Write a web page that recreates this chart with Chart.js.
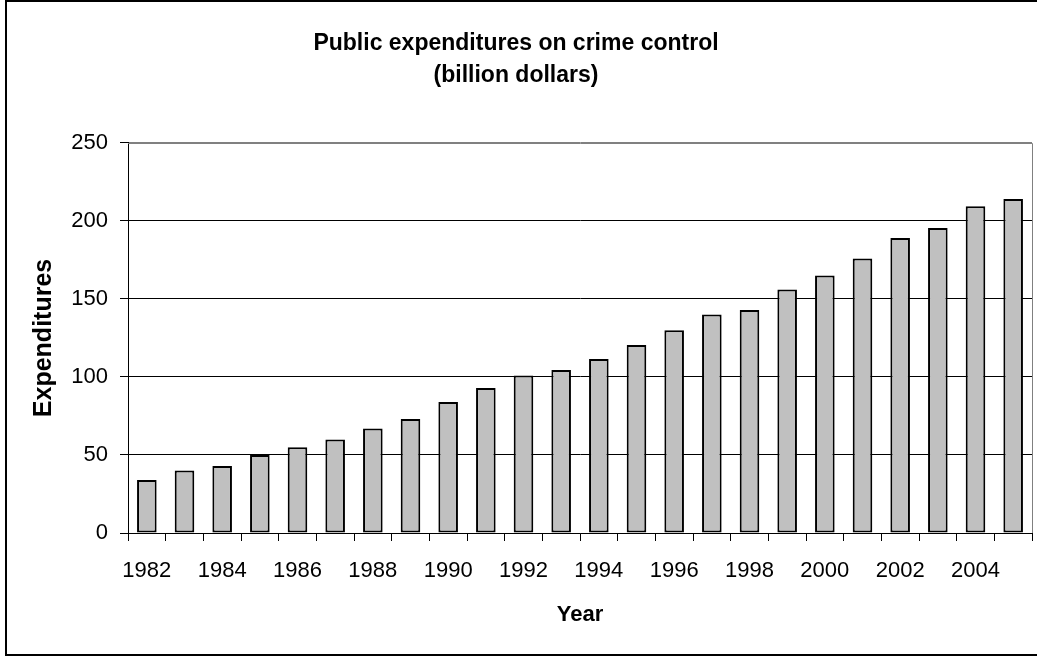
<!DOCTYPE html>
<html>
<head>
<meta charset="utf-8">
<title>Public expenditures on crime control</title>
<script src="https://cdn.jsdelivr.net/npm/chart.js@4/dist/chart.umd.min.js"></script>
<style>
    html, body { margin: 0; padding: 0; background: #fff; }
    #frame {
        position: absolute;
        left: 5px; top: 0;
        width: 1040px; height: 652px;
        border: 2px solid #000;
        background: #fff;
    }
    #chart-box {
        position: absolute;
        left: 0; top: 0;
        width: 1037px; height: 657px;
    }
</style>
</head>
<body>
<div id="frame"></div>
<div id="chart-box">
    <canvas id="crimeChart" width="1037" height="657"></canvas>
</div>
<script>
// Du lieu
const years = ['1982', '1983', '1984', '1985', '1986', '1987', '1988', '1989', '1990', '1991', '1992', '1993',
    '1994', '1995', '1996', '1997', '1998', '1999', '2000', '2001', '2002', '2003', '2004', '2005']
const expenditures = [34, 40, 43, 50, 55, 60, 67, 73, 84, 93, 101, 104.5,
    111.5, 120.5, 130, 140, 143, 156, 165, 176, 189, 195.5, 209.5, 214]
const yTicks = [0, 50, 100, 150, 200, 250]

const fontFamily = "'Liberation Sans', Arial, sans-serif"

// Vien xam phia tren va ben phai vung ve
const plotFrame = {
    id: 'plotFrame',
    afterDatasetsDraw(chart) {
        const { ctx, chartArea: a } = chart
        ctx.save()
        ctx.strokeStyle = '#808080'
        ctx.lineWidth = 1
        ctx.beginPath()
        ctx.moveTo(a.left, Math.round(a.top) + 0.5)
        ctx.lineTo(Math.round(a.right) + 0.5, Math.round(a.top) + 0.5)
        ctx.lineTo(Math.round(a.right) + 0.5, a.bottom)
        ctx.stroke()
        ctx.restore()
    }
}

const ctx = document.getElementById('crimeChart').getContext('2d')

new Chart(ctx, {
    type: 'bar',
    data: {
        labels: years,
        datasets: [{
            label: 'Expenditures',
            data: expenditures,
            backgroundColor: '#c0c0c0',
            borderColor: '#000',
            borderWidth: 2,
            borderSkipped: false,
            categoryPercentage: 1,
            barPercentage: 0.52
        }]
    },
    plugins: [plotFrame],
    options: {
        responsive: false,
        animation: false,
        layout: {
            padding: { left: 0, right: 5, top: 0, bottom: 0 }
        },
        plugins: {
            legend: { display: false },
            tooltip: { enabled: false },
            title: {
                display: true,
                text: ['Public expenditures on crime control', '(billion dollars)'],
                color: '#000',
                font: { family: fontFamily, size: 23, weight: 'bold', lineHeight: 1.39 },
                padding: { top: 28, bottom: 51 }
            }
        },
        scales: {
            x: {
                afterFit: (scale) => { scale.height = 124 },
                grid: {
                    offset: true,
                    drawOnChartArea: false,
                    color: '#000',
                    tickLength: 8
                },
                border: { color: '#000', width: 1 },
                ticks: {
                    autoSkip: false,
                    maxRotation: 0,
                    padding: 17,
                    color: '#000',
                    font: { family: fontFamily, size: 22 },
                    // chi hien nhan cac nam chan
                    callback: function (value, index) {
                        return index % 2 === 0 ? this.getLabelForValue(value) : ''
                    }
                },
                title: {
                    display: true,
                    text: 'Year',
                    color: '#000',
                    font: { family: fontFamily, size: 22, weight: 'bold' },
                    padding: 29
                }
            },
            y: {
                min: yTicks[0],
                max: yTicks[yTicks.length - 1],
                afterFit: (scale) => { scale.width = 128 },
                afterBuildTicks: (scale) => {
                    scale.ticks = yTicks.map(v => ({ value: v }))
                },
                grid: {
                    color: (c) => c.tick && c.tick.value === 250 ? '#808080' : '#000',
                    tickColor: '#000',
                    tickLength: 8
                },
                border: { color: '#000', width: 1 },
                ticks: {
                    padding: 12,
                    color: '#000',
                    font: { family: fontFamily, size: 22 }
                },
                title: {
                    display: true,
                    text: 'Expenditures',
                    color: '#000',
                    font: { family: fontFamily, size: 25, weight: 'bold' },
                    padding: 29
                }
            }
        }
    }
})
</script>
</body>
</html>
